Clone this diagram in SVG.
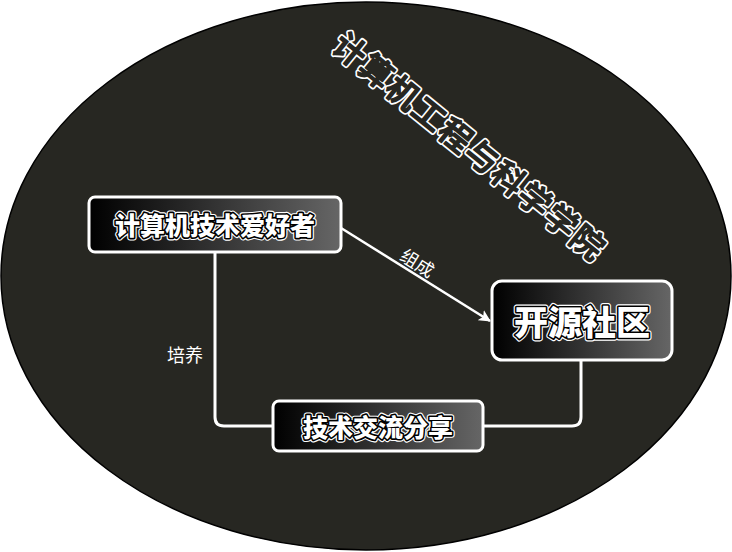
<svg xmlns="http://www.w3.org/2000/svg" width="732" height="552" viewBox="0 0 732 552">
<defs>
<linearGradient id="g" x1="0" y1="0" x2="1" y2="0">
<stop offset="0" stop-color="#000"/>
<stop offset="1" stop-color="#666"/>
</linearGradient>
<marker id="arr" markerWidth="12" markerHeight="12" refX="11" refY="6" orient="auto" markerUnits="userSpaceOnUse">
<path d="M0,0 L12,6 L0,12 L3,6 Z" fill="#fff"/>
</marker>
<style>
.box{fill:url(#g);stroke:#fff;stroke-width:3}
.t{font-family:"Noto Sans CJK SC","Noto Sans",sans-serif;font-weight:900;text-anchor:middle;dominant-baseline:central}
.o{fill:#fff;stroke:#fff;stroke-width:5.5;stroke-linejoin:round}
.m{fill:#000;stroke:#000;stroke-width:3.2;stroke-linejoin:round}
.i{fill:#fff}
.tt{font-family:"Noto Sans CJK SC","Noto Sans",sans-serif;font-weight:500;text-anchor:middle;dominant-baseline:central}
.to{fill:#fff;stroke:#fff;stroke-width:5;stroke-linejoin:round}
.ti{fill:#272722;stroke:#272722;stroke-width:1.6;stroke-linejoin:round}
.c{fill:none;stroke:#fff;stroke-width:3}
.lbl{font-family:"Noto Sans CJK SC","Noto Sans",sans-serif;font-size:18px;fill:#fff;text-anchor:middle;dominant-baseline:central}
</style>
</defs>
<g id="background">
<ellipse cx="366" cy="276" rx="365" ry="274" fill="#272722" stroke="#000" stroke-width="1.5"/>
</g>
<g id="title" transform="rotate(39 471 145)">
<text class="tt to" x="471" y="145" font-size="32" letter-spacing="2">计算机工程与科学学院</text>
<text class="tt ti" x="471" y="145" font-size="32" letter-spacing="2">计算机工程与科学学院</text>
</g>
<g id="connectors">
<line x1="341" y1="228" x2="490" y2="321" stroke="#fff" stroke-width="2.5" marker-end="url(#arr)"/>
<text class="lbl" x="418" y="262" transform="rotate(32 418 262)">组成</text>
<path class="c" d="M215,252 V417 Q215,426 224,426 H273"/>
<text class="lbl" x="185" y="354">培养</text>
<path class="c" d="M581,361 V417 Q581,426 572,426 H483"/>
</g>
<g id="n1">
<rect class="box" x="89" y="197" width="252" height="55" rx="6"/>
<text class="t o" x="215" y="224" font-size="25">计算机技术爱好者</text>
<text class="t m" x="215" y="224" font-size="25">计算机技术爱好者</text>
<text class="t i" x="215" y="224" font-size="25">计算机技术爱好者</text>
</g>
<g id="n2">
<rect class="box" x="492" y="281" width="180" height="79" rx="10"/>
<text class="t o" x="582" y="320" font-size="34">开源社区</text>
<text class="t m" x="582" y="320" font-size="34">开源社区</text>
<text class="t i" x="582" y="320" font-size="34">开源社区</text>
</g>
<g id="n3">
<rect class="box" x="273" y="401" width="210" height="50" rx="6"/>
<text class="t o" x="378" y="426" font-size="25">技术交流分享</text>
<text class="t m" x="378" y="426" font-size="25">技术交流分享</text>
<text class="t i" x="378" y="426" font-size="25">技术交流分享</text>
</g>
</svg>
